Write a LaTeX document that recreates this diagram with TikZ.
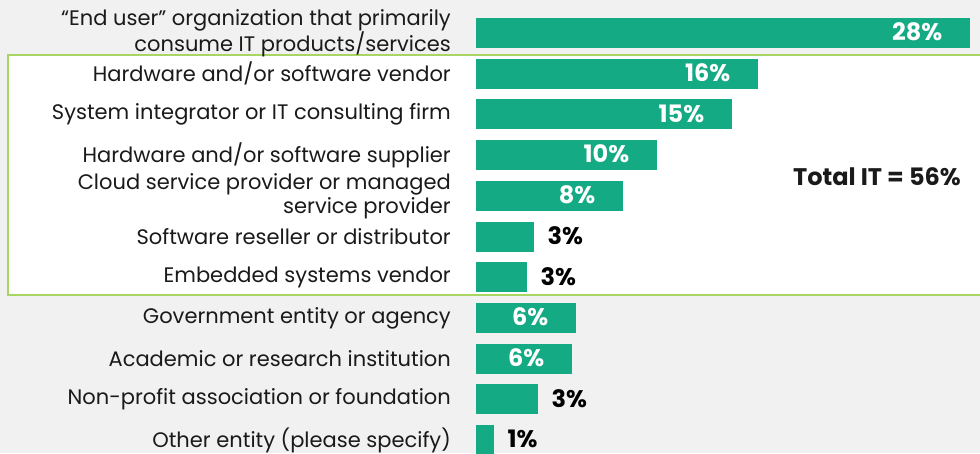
\documentclass[tikz,border=0pt]{standalone}
\usepackage{fontspec}
\setmainfont{Poppins}
\usetikzlibrary{positioning}
\definecolor{barGreen}{RGB}{19,170,132}
\definecolor{boxGreen}{RGB}{168,214,98}
\definecolor{pageGrey}{RGB}{241,241,241}
\definecolor{txtBlack}{RGB}{26,26,26}

\tikzset{
  catlabel/.style={anchor=east, inner sep=0pt, align=right, font=\fontsize{21}{24}\selectfont, text=txtBlack},
  bar/.style={fill=barGreen, draw=none, inner sep=0pt, minimum height=30, anchor=west},
  valin/.style={inner sep=0pt, yshift=1pt, font=\fontsize{24}{28}\selectfont\bfseries, text=white},
  valout/.style={inner sep=0pt, yshift=1pt, font=\fontsize{24}{28}\selectfont\bfseries, text=black},
}

\begin{document}
\begin{tikzpicture}[x=1pt,y=-1pt]
  \useasboundingbox (0,0) rectangle (980,453);
  % background and IT box
  \fill [pageGrey] (0,0) rectangle (980,453);
  \draw [boxGreen, line width=1.5, fill=white] (990,55) -- (8,55) -- (8,295) -- (990,295);

  % rows: index / label / bar length / value / inside(1) or outside(0)
  \foreach \i/\lbl/\len/\val/\inside in {
      1/{``End user'' organization that primarily\\consume IT products/services\hspace{6pt}}/494/28/1,
      2/{Hardware and/or software vendor}/282/16/1,
      3/{System integrator or IT consulting firm}/256/15/1,
      4/{Hardware and/or software supplier}/181/10/1,
      5/{Cloud service provider or managed\\service provider}/147/8/1,
      6/{Software reseller or distributor}/58/3/0,
      7/{Embedded systems vendor}/51/3/0,
      8/{Government entity or agency}/100/6/1,
      9/{Academic or research institution}/96/6/1,
      10/{Non-profit association or foundation}/62/3/0,
      11/{Other entity (please specify)}/18/1/0}
  {
    \pgfmathsetmacro{\rowy}{33+40.7*(\i-1)}
    \node [bar, minimum width=\len] (bar\i) at (476,\rowy) {};
    \node [catlabel] (lbl\i) at (451,\rowy) {\lbl};
    \ifnum\inside=1
      \node [valin, left=28 of bar\i.east] (val\i) {\val\%};
    \else
      \node [valout, right=13 of bar\i.east] (val\i) {\val\%};
    \fi
  }

  % total for the IT group
  \node [anchor=east, inner sep=0pt, font=\fontsize{24}{28}\selectfont\bfseries, text=txtBlack] (totalIT) at (961,177) {Total IT = 56\%};
\end{tikzpicture}
\end{document}
